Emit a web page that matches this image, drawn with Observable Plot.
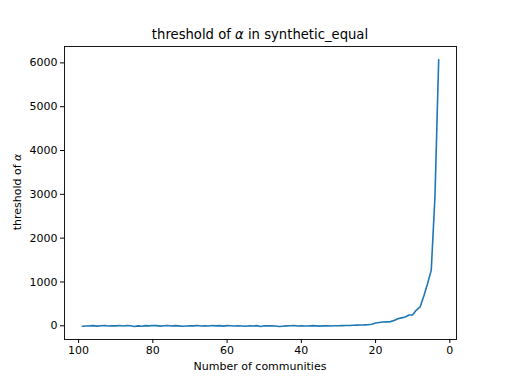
<!DOCTYPE html>
<html>
<head>
<meta charset="utf-8">
<script src="https://cdn.jsdelivr.net/npm/d3@7"></script>
<script src="https://cdn.jsdelivr.net/npm/@observablehq/plot@0.6"></script>
<style>
  html, body { margin: 0; padding: 0; background: #fff; }
  #wrap { position: relative; width: 507px; height: 381px; font-family: "DejaVu Sans", sans-serif; }
  #wrap svg { position: absolute; left: 0; top: 0; }
  .title { position: absolute; left: 0; width: 520px; top: 27px; text-align: center; font-size: 13.2px; line-height: 16px; color: #000; }
  .ylab { position: absolute; left: 17px; top: 192px; transform: translate(-50%, -50%) rotate(-90deg); font-size: 11px; white-space: nowrap; color: #000; }
  .xlab { position: absolute; left: 64px; width: 392px; top: 360px; text-align: center; font-size: 11px; line-height: 14px; color: #000; }
</style>
</head>
<body>
<div id="wrap">
  <div class="title">threshold of <i>α</i> in synthetic_equal</div>
  <div class="ylab">threshold of <i>α</i></div>
  <div class="xlab">Number of communities</div>
</div>
<script>
const communities = [3,4,5,6,7,8,9,10,11,12,13,14,15,16,17,18,19,20,21,22,23,24,25,26,27,28,29,30,
  31,32,33,34,35,36,37,38,39,40,41,42,43,44,45,46,47,48,49,50,
  51,52,53,54,55,56,57,58,59,60,61,62,63,64,65,66,67,68,69,70,
  71,72,73,74,75,76,77,78,79,80,81,82,83,84,85,86,87,88,89,90,
  91,92,93,94,95,96,97,98,99];
const threshold = [6070,2950,1270,960,680,430,360,250,245,200,180,160,120,95,90,85,75,65,35,25,20,18,15,12,8,5,3,0,
  2,-5,-3,0,-8,-2,3,-6,-4,2,-4,5,0,-3,-10,-18,-5,2,-3,0,
  -15,3,-6,0,-10,-4,2,-5,0,4,-8,3,-2,6,-6,0,-4,8,-3,0,
  -5,-10,-2,3,-4,6,0,-8,4,6,-2,4,-10,-3,-15,0,5,-5,8,-3,
  2,-6,5,0,-8,4,-2,-5,-10];
const xTicks = [100, 80, 60, 40, 20, 0];
const yTicks = [0, 1000, 2000, 3000, 4000, 5000, 6000];

const data = communities.map((c, i) => ({c, v: threshold[i]}));
const fmt = d3.format("d");

const chart = Plot.plot({
  width: 507,
  height: 381,
  marginLeft: 64,
  marginRight: 51,
  marginTop: 46,
  marginBottom: 42,
  style: {fontFamily: "DejaVu Sans, sans-serif", fontSize: "11px", color: "#000", background: "transparent"},
  x: {domain: [103.8, -1.8], label: null},
  y: {domain: [-313, 6374], label: null},
  marks: [
    Plot.line(data, {x: "c", y: "v", stroke: "#1f77b4", strokeWidth: 1.6}),
    Plot.frame({stroke: "#000", strokeWidth: 0.9}),
    Plot.axisX({ticks: xTicks, tickFormat: fmt, tickSize: 4, tickPadding: 3, label: null, fontSize: 11}),
    Plot.axisY({ticks: yTicks, tickFormat: fmt, tickSize: 4, tickPadding: 3, label: null, fontSize: 11})
  ]
});
document.getElementById("wrap").prepend(chart);
</script>
</body>
</html>
